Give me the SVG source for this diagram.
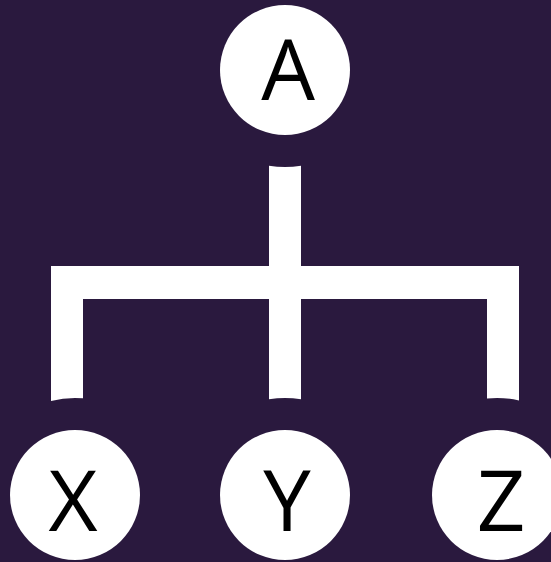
<svg xmlns="http://www.w3.org/2000/svg" width="551" height="562" viewBox="0 0 551 562">
<style>
.node circle{fill:#ffffff}
.node text{font-family:"Open Sans","Liberation Sans",sans-serif;font-size:85px;fill:#000000;text-anchor:middle}
.conn{fill:#ffffff}
</style>
<rect width="551" height="562" fill="#2a193e"/>
<g id="connectors">
<path class="conn" d="M51,266 L269,266 L269,165.67 A97,97 0 0 0 301,165.67 L301,266 L519,266 L519,400.5 A97,97 0 0 0 487,398.5 L487,299 L301,299 L301,399.3 A97,97 0 0 0 269,399.3 L269,299 L83,299 L83,398.3 A97,97 0 0 0 51,401 Z"/>
</g>
<g id="node-A" class="node"><circle cx="285" cy="70" r="65"/><text x="288" y="100">A</text></g>
<g id="node-X" class="node"><circle cx="75" cy="495" r="65"/><text x="73" y="531">X</text></g>
<g id="node-Y" class="node"><circle cx="285" cy="495" r="65"/><text x="287" y="531">Y</text></g>
<g id="node-Z" class="node"><circle cx="497" cy="495" r="65"/><text x="501" y="531">Z</text></g>
</svg>
